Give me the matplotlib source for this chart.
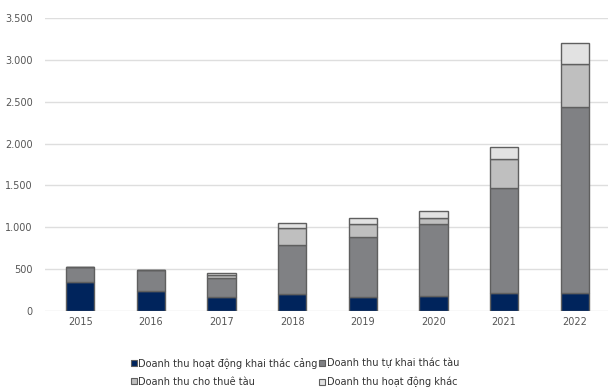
import numpy as np
import matplotlib.pyplot as plt
from matplotlib.patches import Patch
from matplotlib.ticker import FuncFormatter

years = ["2015", "2016", "2017", "2018", "2019", "2020", "2021", "2022"]
khai_thac_cang = [350, 240, 170, 200, 170, 175, 210, 210]
tu_khai_thac_tau = [180, 255, 230, 585, 715, 860, 1260, 2230]
cho_thue_tau = [0, 0, 25, 210, 160, 80, 340, 510]
hoat_dong_khac = [0, 0, 30, 55, 60, 80, 145, 250]

labels = ["Doanh thu hoạt động khai thác cảng", "Doanh thu tự khai thác tàu",
          "Doanh thu cho thuê tàu", "Doanh thu hoạt động khác"]
colors = ["#00245c", "#808184", "#bfbfbf", "#e2e2e2"]
edge = "#5f5f5f"

fig = plt.figure(figsize=(6.08, 3.88), dpi=100)
ax = fig.add_axes([45 / 608, 1 - 311 / 388, 565 / 608, 293 / 388])

x = np.arange(len(years))
bottom = np.zeros(len(years))
for vals, c in zip([khai_thac_cang, tu_khai_thac_tau, cho_thue_tau, hoat_dong_khac], colors):
    vals = np.array(vals, dtype=float)
    ax.bar(x, vals, 0.4, bottom=bottom, color=c, edgecolor=edge, linewidth=1, zorder=3)
    bottom += vals

ax.set_xlim(-0.5, 7.5)
ax.set_ylim(0, 3500)
ax.set_yticks(np.arange(0, 3501, 500))
ax.yaxis.set_major_formatter(FuncFormatter(lambda v, p: f"{int(v):,}".replace(",", ".")))
ax.set_xticks(x)
ax.set_xticklabels(years)
ax.grid(axis="y", color="#dedede", linewidth=1, zorder=0)
for s in ax.spines.values():
    s.set_visible(False)
ax.tick_params(length=0, labelsize=7, labelcolor="#555555")
ax.tick_params(axis="y", pad=9)
ax.tick_params(axis="x", pad=4)

# legend fills column-first, so order handles to read row by row
handles = [Patch(facecolor=c, edgecolor=edge, linewidth=0.8) for c in colors]
order = [0, 2, 1, 3]
fig.legend([handles[i] for i in order], [labels[i] for i in order],
           loc="center", bbox_to_anchor=(0.485, 0.04), ncol=2,
           frameon=False, fontsize=7, handlelength=0.6, handleheight=0.6,
           handletextpad=0.15, columnspacing=0.2, labelspacing=0.85,
           labelcolor="#333333")

fig.savefig("out.png", dpi=100)
